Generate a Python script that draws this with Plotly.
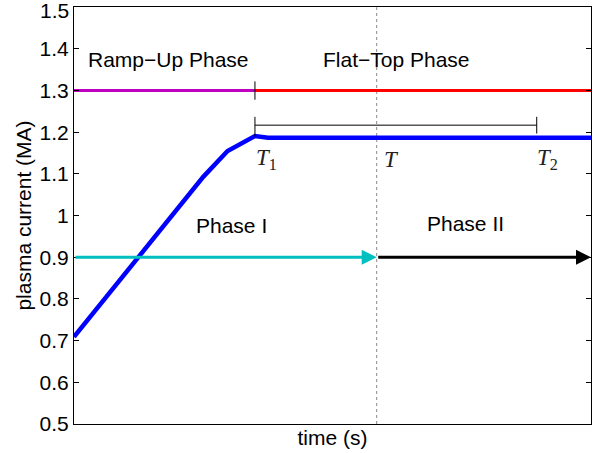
import plotly.graph_objects as go

# ---- data ----
t_blue = [0.0, 2.5, 2.97, 3.5, 3.75, 10.0]
i_blue = [0.709, 1.093, 1.155, 1.191, 1.187, 1.187]

t_ramp = [0.0, 3.5]
i_ramp = [1.3, 1.3]
t_flat = [3.5, 10.0]
i_flat = [1.3, 1.3]

T1 = 3.5
T = 5.855
T2 = 8.95
t_end = 10.0
i_ref = 0.9

bracket_y = 1.217
bracket_lo = 1.19
bracket_hi = 1.237
tick13_lo = 1.278
tick13_hi = 1.322

yticks = [0.5, 0.6, 0.7, 0.8, 0.9, 1.0, 1.1, 1.2, 1.3, 1.4, 1.5]
ytick_text = ["0.5", "0.6", "0.7", "0.8", "0.9", "1", "1.1", "1.2", "1.3", "1.4", "1.5"]

labels_phase = [
    ("Ramp\u2212Up Phase", 1.82, 1.375),
    ("Flat\u2212Top Phase", 6.235, 1.375),
    ("Phase I", 3.04, 0.977),
    ("Phase II", 7.57, 0.982),
]
labels_T = [
    ("<i>T</i><sub>1</sub>", 3.72, 1.135),
    ("<i>T</i>", 6.15, 1.135),
    ("<i>T</i><sub>2</sub>", 9.15, 1.135),
]

FONT = "Liberation Sans, Arial, sans-serif"
SERIF = "Liberation Serif, DejaVu Serif, serif"

fig = go.Figure()

# dotted vertical line at T
fig.add_trace(go.Scatter(x=[T, T], y=[yticks[0], yticks[-1]], mode="lines",
                         line=dict(color="#888888", width=1, dash="dot"),
                         hoverinfo="skip"))
# reference lines
fig.add_trace(go.Scatter(x=t_ramp, y=i_ramp, mode="lines",
                         line=dict(color="#bf00bf", width=3)))
fig.add_trace(go.Scatter(x=t_flat, y=i_flat, mode="lines",
                         line=dict(color="#ff0000", width=3)))
# plasma current
fig.add_trace(go.Scatter(x=t_blue, y=i_blue, mode="lines",
                         line=dict(color="#0000ff", width=4.5)))
# T1 tick on 1.3 line
fig.add_trace(go.Scatter(x=[T1, T1], y=[tick13_lo, tick13_hi], mode="lines",
                         line=dict(color="black", width=1)))
# bracket T1..T2
fig.add_trace(go.Scatter(x=[T1, T1, None, T1, T2, None, T2, T2],
                         y=[bracket_lo, bracket_hi, None, bracket_y, bracket_y, None,
                            bracket_y - 0.02, bracket_hi],
                         mode="lines", line=dict(color="black", width=1)))

# arrows
fig.add_annotation(x=T, y=i_ref, ax=0, ay=i_ref, xref="x", yref="y",
                   axref="x", ayref="y", showarrow=True, arrowhead=2,
                   arrowsize=1.0, arrowwidth=3, arrowcolor="#00bfbf", standoff=0, text="")
fig.add_annotation(x=t_end, y=i_ref, ax=T, ay=i_ref, xref="x", yref="y",
                   axref="x", ayref="y", showarrow=True, arrowhead=2,
                   arrowsize=1.0, arrowwidth=3, arrowcolor="black", standoff=0, text="")

for txt, x, y in labels_phase:
    fig.add_annotation(x=x, y=y, text=txt, showarrow=False, xref="x", yref="y",
                       font=dict(family=FONT, size=21, color="black"))
for txt, x, y in labels_T:
    fig.add_annotation(x=x, y=y, text=txt, showarrow=False, xref="x", yref="y",
                       font=dict(family=SERIF, size=23, color="#222222"))

# top tick label (plotly hides it because it touches the page edge)
fig.add_annotation(x=0, xref="paper", xanchor="right", xshift=-3,
                   y=yticks[-1], yref="y", yanchor="middle", yshift=-3,
                   text=ytick_text[-1], showarrow=False,
                   font=dict(family=FONT, size=21, color="black"))

fig.update_layout(
    width=602, height=453,
    margin=dict(l=74, r=11, t=7, b=29),
    paper_bgcolor="white", plot_bgcolor="white",
    showlegend=False,
    font=dict(family=FONT, size=21, color="black"),
)
fig.update_xaxes(range=[0, t_end], showticklabels=False, ticks="", showgrid=False,
                 zeroline=False, showline=True, linecolor="black", linewidth=1,
                 mirror=True, automargin=False,
                 title=dict(text="time (s)", standoff=6, font=dict(size=21)))
fig.update_yaxes(range=[yticks[0], yticks[-1] + 0.0005], tickvals=yticks[:-1],
                 ticktext=ytick_text[:-1], ticks="inside",
                 ticklen=5, tickcolor="black", showgrid=False, zeroline=False,
                 showline=True, linecolor="black", linewidth=1, mirror="ticks",
                 tickfont=dict(size=21), automargin=False,
                 title=dict(text="plasma current (MA)", standoff=2, font=dict(size=21)))

fig.write_html("out.html", config={"displayModeBar": False},
               post_script="document.body.style.margin='0';document.body.style.overflow='hidden';")
